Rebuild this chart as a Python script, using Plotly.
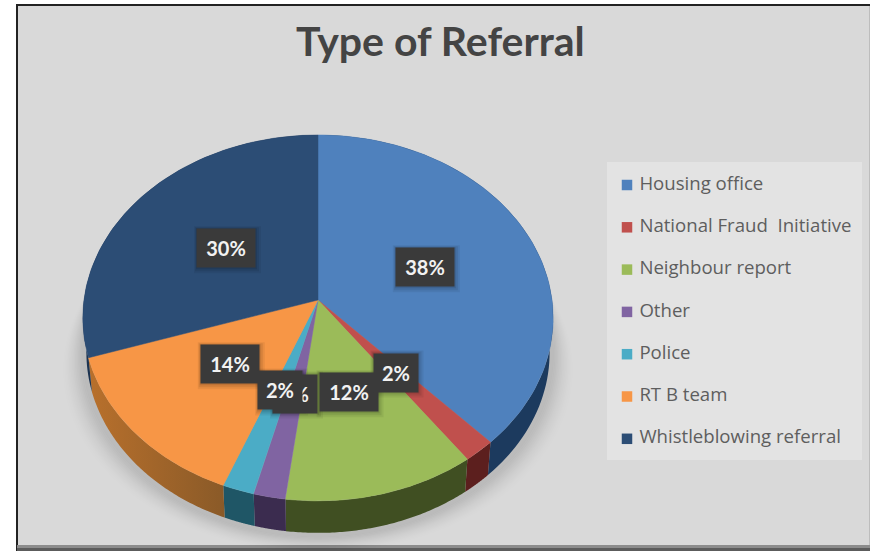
import numpy as np
import plotly.graph_objects as go

categories = ["Housing office", "National Fraud  Initiative", "Neighbour report", "Other", "Police", "RT B team", "Whistleblowing referral"]
values = [38, 2, 12, 2, 2, 14, 30]
top_colors = ["#4f81bd", "#c0504d", "#9bbb59", "#8064a2", "#4bacc6", "#f79646", "#2c4d75"]
wall_colors = [
    ["#1c3a5e", "#1c3a5e"], ["#5c1f1e", "#5c1f1e"], ["#404f22", "#404f22"], ["#3b2c4f", "#3b2c4f"],
    ["#1f5666", "#1f5666"], ["#b8702c", "#8a5a28"], ["#1c3350", "#1c3350"],
]
label_order = [3, 2, 0, 1, 5, 4, 6]

CX, CY, R, A, K, DEPTH = 318, 300, 234, 181.2, 0.098, 35
WALL_SCALE = 0.985


def project(u, v, scale=1.0, dy=0.0):
    d = 1 + K * v
    return CX + scale * R * u / d, CY - scale * A * v / d + dy


def arc(p0, p1, n=80):
    t = np.radians(np.linspace(p0, p1, n) * 3.6)
    return np.sin(t), np.cos(t)


fig = go.Figure()

# soft drop shadow beneath the pie
t = np.linspace(0, 2 * np.pi, 240)
for grow in np.arange(20, 0, -1.5):
    alpha = 0.004 + 0.012 * (1 - grow / 20)
    x, y = project(np.sin(t), np.cos(t), 1.0, DEPTH + 1)
    x = CX + (x - CX) * (1 + grow / R)
    y = y + grow * 0.8
    fig.add_trace(go.Scatter(x=x, y=y, fill="toself", mode="none", hoverinfo="skip", showlegend=False,
                             fillcolor=f"rgba(40,40,40,{alpha:.4f})"))

edges = np.concatenate([[0], np.cumsum(values)]) / sum(values) * 100
for i in range(len(values)):
    u, v = arc(edges[i], edges[i + 1])
    xt, yt = project(u, v)
    xb, yb = project(u, v, WALL_SCALE, DEPTH)
    fig.add_trace(go.Scatter(
        x=np.r_[xt, xb[::-1], xt[0]], y=np.r_[yt, yb[::-1], yt[0]],
        fill="toself", mode="none", hoverinfo="skip", showlegend=False,
        fillgradient=dict(type="horizontal", colorscale=[[0, wall_colors[i][0]], [1, wall_colors[i][1]]]),
    ))
for i in range(len(values)):
    u, v = arc(edges[i], edges[i + 1])
    xt, yt = project(u, v)
    fig.add_trace(go.Scatter(
        x=np.r_[CX, xt, CX], y=np.r_[CY, yt, CY], fill="toself", mode="lines",
        line=dict(color=top_colors[i], width=0.5), fillcolor=top_colors[i],
        name=categories[i], text=f"{values[i]}%", hoverinfo="name+text", showlegend=False,
    ))

# legend entries
LEG_X, LEG_Y0, LEG_DY = 627, 185, 42.3
fig.add_trace(go.Scatter(
    x=[LEG_X] * len(categories), y=[LEG_Y0 + i * LEG_DY for i in range(len(categories))],
    mode="markers+text", text=["\u00a0" + c for c in categories], textposition="middle right",
    textfont=dict(family="Open Sans, sans-serif", size=18.6, color="#5e5e5e"),
    marker=dict(symbol="square", size=10.5, color=top_colors, line=dict(width=0)),
    hoverinfo="skip", showlegend=False,
))

# data labels on dark boxes, placed at half radius of each slice's mid-angle
annotations = []
shadow_shapes = []
for i in label_order:
    mid = (edges[i] + edges[i + 1]) / 2
    u, v = arc(mid, mid, 1)
    lx, ly = project(u[0] * .5, v[0] * .5)
    lx, ly = float(lx), float(ly)
    w = 44 if values[i] < 10 else 58
    for off, a in [(6, .06), (4, .08), (2, .10)]:
        shadow_shapes.append(dict(type="rect", x0=lx - w / 2 - off / 2, x1=lx + w / 2 + off, y0=ly - 19 - off / 2, y1=ly + 19 + off,
                                  line=dict(width=0), fillcolor=f"rgba(0,0,0,{a})", layer="above"))
    annotations.append(dict(
        x=lx, y=ly, xref="x", yref="y", showarrow=False, text=f"<b>{values[i]}%</b>",
        font=dict(family="Lato, sans-serif", size=20, color="#f2f2f2"),
        bgcolor="#3a3a3a", width=w, height=38, align="center", valign="middle", borderpad=0,
    ))
annotations.append(dict(
    x=440, y=40, xref="x", yref="y", showarrow=False, text="<b>Type of Referral</b>",
    font=dict(family="Lato, sans-serif", size=41, color="#444444"),
))

shapes = [
    dict(type="rect", x0=17, x1=870, y0=5, y1=545, line=dict(width=0), fillcolor="#d9d9d9", layer="below"),
    dict(type="rect", x0=607, x1=862, y0=162, y1=460, line=dict(width=0), fillcolor="#e3e3e3", layer="below"),
    dict(type="line", x0=17, x1=17, y0=4, y1=551, line=dict(color="#222222", width=2), layer="below"),
    dict(type="line", x0=16, x1=870, y0=5, y1=5, line=dict(color="#222222", width=2), layer="below"),
    dict(type="rect", x0=17, x1=870, y0=545, y1=548, line=dict(width=0), fillcolor="#8c8c8c", layer="below"),
    dict(type="rect", x0=17, x1=870, y0=548, y1=551, line=dict(width=0), fillcolor="#5c5c5c", layer="below"),
    dict(type="line", x0=869.5, x1=869.5, y0=6, y1=545, line=dict(color="#bdbdbd", width=1), layer="below"),
] + shadow_shapes

fig.update_layout(
    width=870, height=551, margin=dict(l=0, r=0, t=0, b=0, pad=0), autosize=False,
    paper_bgcolor="white", plot_bgcolor="white", showlegend=False,
    xaxis=dict(range=[0, 870], visible=False, fixedrange=True),
    yaxis=dict(range=[551, 0], visible=False, fixedrange=True),
    shapes=shapes, annotations=annotations,
)
fig.write_html("out.html", config={"displayModeBar": False},
               post_script="document.body.style.margin='0';document.body.style.overflow='hidden';")
